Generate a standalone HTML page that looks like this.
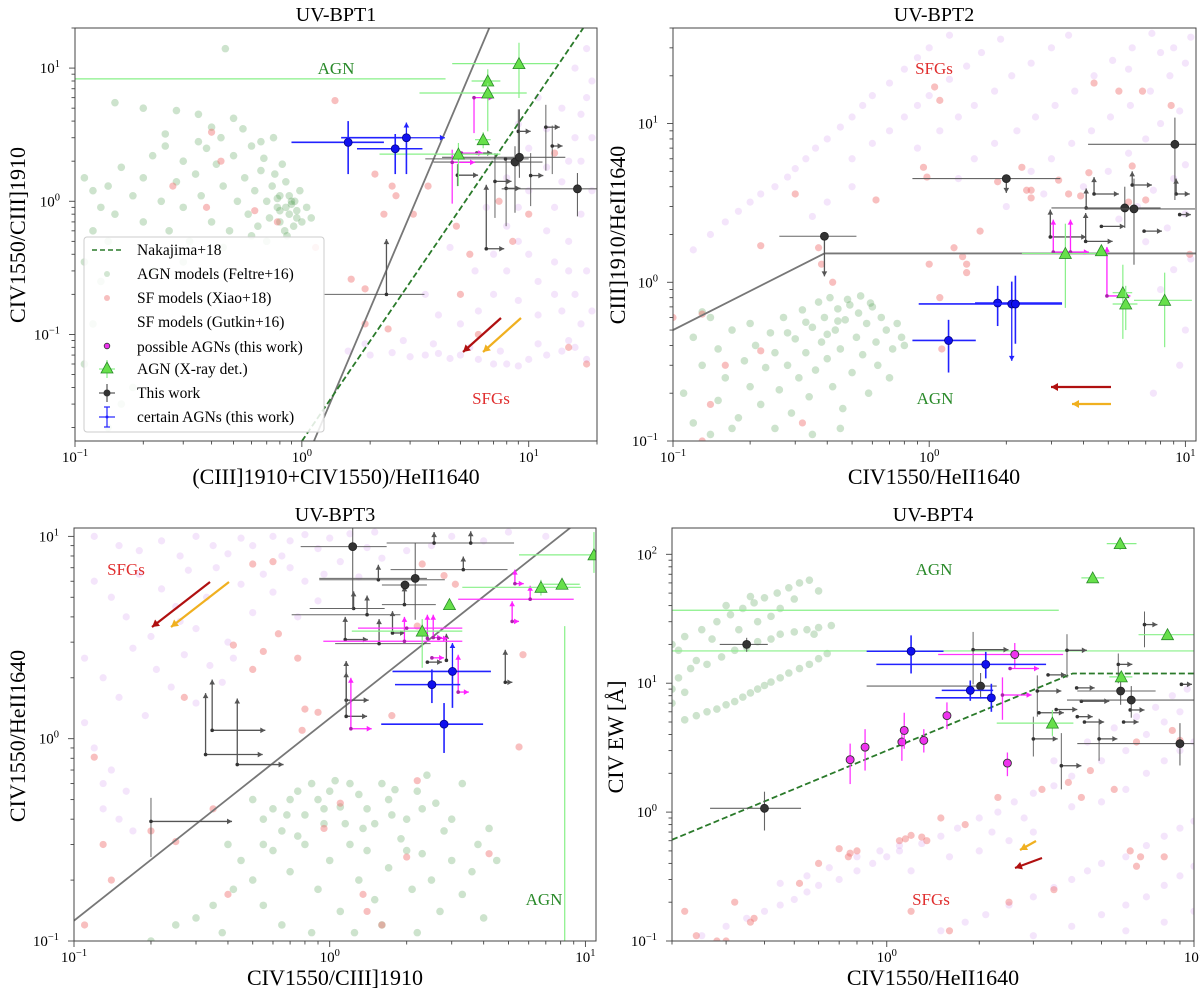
<!DOCTYPE html>
<html><head><meta charset="utf-8"><title>UV-BPT diagrams</title>
<style>
html,body{margin:0;padding:0;background:#fff;}
svg{display:block;font-family:"Liberation Serif","DejaVu Serif",serif;}
</style></head>
<body>
<svg id="fig" xmlns="http://www.w3.org/2000/svg" width="1200" height="999" viewBox="0 0 1200 999">
<defs>
<clipPath id="c1"><rect x="75" y="28" width="522" height="413"/></clipPath>
<clipPath id="c2"><rect x="673" y="28" width="523" height="413"/></clipPath>
<clipPath id="c3"><rect x="74" y="528" width="522" height="413"/></clipPath>
<clipPath id="c4"><rect x="672" y="528" width="522" height="413"/></clipPath>
</defs>
<g id="g1"></g>
<g id="g2"></g>
<g id="g3"></g>
<g id="g4"></g>

<g font-size="20" text-anchor="middle" fill="#000">
<text x="336" y="21">UV-BPT1</text>
<text x="934" y="21">UV-BPT2</text>
<text x="335" y="521">UV-BPT3</text>
<text x="933" y="521">UV-BPT4</text>
</g>
<g font-size="22" text-anchor="middle" fill="#000">
<text x="336" y="484">(CIII]1910+CIV1550)/HeII1640</text>
<text x="934" y="484">CIV1550/HeII1640</text>
<text x="335" y="985">CIV1550/CIII]1910</text>
<text x="933" y="985">CIV1550/HeII1640</text>
<text transform="translate(25,235) rotate(-90)">CIV1550/CIII]1910</text>
<text transform="translate(625,235) rotate(-90)">CIII]1910/HeII1640</text>
<text transform="translate(25,736) rotate(-90)">CIV1550/HeII1640</text>
<text transform="translate(623,737) rotate(-90)">CIV EW [Å]</text>
</g>
<g font-size="17" text-anchor="middle">
<text x="336" y="74" fill="#2a8a2a">AGN</text>
<text x="491" y="404" fill="#e03030">SFGs</text>
<text x="934" y="74" fill="#e03030">SFGs</text>
<text x="935" y="404" fill="#2a8a2a">AGN</text>
<text x="126" y="575" fill="#e03030">SFGs</text>
<text x="544" y="905" fill="#2a8a2a">AGN</text>
<text x="934" y="575" fill="#2a8a2a">AGN</text>
<text x="931" y="905" fill="#e03030">SFGs</text>
</g>
<g id="legend">
<rect x="84" y="237" width="240" height="195" rx="3" fill="#fff" fill-opacity="0.85" stroke="#ccc"/>
<g font-size="15.5" fill="#000">
<line x1="92" y1="250" x2="123" y2="250" stroke="#2a7a2a" stroke-width="1.6" stroke-dasharray="5,3"/>
<text x="137" y="255">Nakajima+18</text>
<circle cx="107" cy="274" r="3" fill="#4c9a4c" fill-opacity="0.25"/>
<text x="137" y="279">AGN models (Feltre+16)</text>
<circle cx="107" cy="298" r="3" fill="#f08080" fill-opacity="0.5"/>
<text x="137" y="303">SF models (Xiao+18)</text>
<text x="137" y="327">SF models (Gutkin+16)</text>
<circle cx="107" cy="346" r="2.8" fill="#ee33ee" stroke="#333" stroke-width="0.8"/>
<text x="137" y="352">possible AGNs (this work)</text>
<line x1="99" y1="369" x2="115" y2="369" stroke="#88f088" stroke-width="1.2"/>
<line x1="107" y1="360" x2="107" y2="378" stroke="#88f088" stroke-width="1.2"/>
<polygon points="107,362 101,373 113,373" fill="#66e04a" stroke="#2a8a2a" stroke-width="0.8"/>
<text x="137" y="374">AGN (X-ray det.)</text>
<line x1="99" y1="393" x2="115" y2="393" stroke="#555" stroke-width="1.2"/>
<line x1="107" y1="384" x2="107" y2="402" stroke="#555" stroke-width="1.2"/>
<circle cx="107" cy="393" r="3.5" fill="#333"/>
<text x="137" y="398">This work</text>
<line x1="99" y1="417" x2="115" y2="417" stroke="#2222ff" stroke-width="1.2"/>
<line x1="107" y1="407" x2="107" y2="427" stroke="#2222ff" stroke-width="1.2"/>
<line x1="104" y1="407" x2="110" y2="407" stroke="#2222ff" stroke-width="1.2"/>
<line x1="104" y1="427" x2="110" y2="427" stroke="#2222ff" stroke-width="1.2"/>
<circle cx="107" cy="417" r="1.5" fill="#2222ff"/>
<text x="137" y="422">certain AGNs (this work)</text>
</g>
</g>
</svg>
<script>
// ---------- data: background model grids ----------
const p1Green=[[0.11,1.5],[0.12,1.2],[0.13,0.9],[0.14,1.3],[0.15,0.8],[0.12,0.6],[0.11,0.35],[0.14,0.5],[0.16,1.8],[0.18,1.1],[0.2,0.7],[0.2,1.5],[0.22,2.2],[0.24,1.0],[0.25,3.2],[0.26,0.6],[0.28,1.4],[0.3,2.0],[0.3,0.9],[0.32,0.5],[0.34,1.6],[0.35,4.5],[0.36,1.1],[0.38,2.5],[0.4,0.7],[0.42,1.9],[0.44,3.0],[0.45,1.3],[0.48,0.6],[0.5,2.2],[0.52,1.0],[0.55,3.5],[0.56,1.5],[0.58,0.8],[0.6,2.6],[0.62,1.2],[0.64,0.65],[0.66,1.7],[0.68,2.1],[0.7,1.0],[0.72,0.75],[0.74,1.3],[0.75,3.0],[0.78,0.9],[0.8,0.7],[0.8,1.1],[0.82,1.9],[0.84,0.6],[0.85,1.4],[0.88,0.8],[0.9,1.0],[0.92,0.65],[0.95,0.85],[0.98,1.2],[1.0,0.7],[1.05,0.9],[1.1,0.75],[0.2,5.0],[0.15,5.5],[0.28,4.8],[0.13,0.25],[0.12,0.12],[0.16,0.03],[0.14,0.02],[0.11,0.06],[0.18,0.04],[0.22,0.3],[0.46,14],[0.3,0.35],[0.45,0.45],[0.6,0.55],[0.7,0.5],[0.86,0.55],[0.76,1.6],[0.66,2.8],[0.5,4.2],[0.4,3.6],[0.25,2.6],[0.35,2.8],[0.9,0.95],[0.93,1.0],[0.85,0.9],[0.8,0.85],[0.95,0.75],[0.88,1.1],[0.78,1.05]];
const p1Red=[[0.4,3.3],[0.27,1.3],[0.38,0.9],[0.44,2.0],[0.62,0.85],[0.78,0.7],[1.4,5.7],[1.15,0.45],[1.65,0.26],[1.9,0.22],[1.9,0.12],[2.1,1.6],[2.3,0.8],[2.5,1.3],[2.6,1.1],[3.1,0.8],[3.6,1.3],[4.8,0.65],[5.0,0.2],[5.5,0.4],[6.0,0.1],[7.4,1.0],[8.5,0.5],[10,0.8],[13,2.3],[15,0.08],[18,0.06],[2.4,0.11]];
const p1Purple=[[1.6,0.075],[2,0.07],[2.5,0.073],[3,0.068],[3.5,0.07],[4,0.072],[4.5,0.066],[5,0.07],[6,0.065],[7,0.06],[8,0.06],[9,0.058],[10,0.065],[12,0.07],[14,0.075],[16,0.08],[18,0.065],[1.9,0.085],[2.8,0.09],[3.8,0.085],[5.5,0.08],[7.5,0.075],[11,0.085],[15,0.09],[6,0.15],[7,0.2],[8,0.3],[9,0.5],[10,0.4],[11,0.25],[12,0.6],[13,0.9],[14,1.4],[15,2],[16,3],[17,4.5],[18,6],[19,8],[12,1.8],[10,1.2],[9,0.9],[8,0.65],[13,0.35],[15,0.5],[17,0.8],[19,1.2],[16,0.2],[18,0.3],[14,5],[16,10],[18,14],[12,3.5],[11,6],[10,2.5],[9,3.8],[8,1.5],[7,0.4],[6.5,0.9],[19,0.15],[17,0.12],[14,0.15],[11,0.14],[9,0.18],[5,0.12],[4,0.14],[3.5,0.2],[5.8,0.3],[4.5,0.45],[17,2],[19,3],[15,0.3],[13,0.2]];
const p2Green=[[0.11,0.2],[0.12,0.45],[0.13,0.3],[0.14,0.6],[0.15,0.18],[0.15,0.38],[0.16,0.25],[0.17,0.5],[0.18,0.14],[0.19,0.32],[0.2,0.22],[0.2,0.55],[0.21,0.4],[0.22,0.17],[0.23,0.29],[0.24,0.48],[0.25,0.36],[0.26,0.21],[0.27,0.6],[0.28,0.3],[0.29,0.15],[0.3,0.44],[0.31,0.25],[0.32,0.67],[0.33,0.36],[0.34,0.19],[0.35,0.52],[0.36,0.28],[0.37,0.75],[0.38,0.42],[0.39,0.6],[0.4,0.33],[0.41,0.8],[0.42,0.22],[0.43,0.5],[0.44,0.68],[0.45,0.38],[0.46,0.16],[0.47,0.58],[0.48,0.78],[0.5,0.27],[0.52,0.45],[0.53,0.64],[0.55,0.35],[0.57,0.55],[0.58,0.2],[0.6,0.7],[0.62,0.42],[0.63,0.3],[0.65,0.6],[0.68,0.5],[0.7,0.25],[0.72,0.38],[0.75,0.55],[0.78,0.45],[0.8,0.4],[0.12,0.13],[0.14,0.11],[0.17,0.12],[0.25,0.12],[0.35,0.11],[0.45,0.12],[0.13,0.65],[0.54,0.82],[0.59,0.74],[0.49,0.72],[0.44,0.57],[0.4,0.47],[0.33,0.56],[0.28,0.48]];
const p2Red=[[0.1,0.6],[0.13,0.63],[0.22,1.7],[0.3,3.6],[0.37,1.65],[0.38,1.3],[0.42,1.0],[0.62,3.3],[0.95,5.3],[0.98,4.6],[1.0,1.3],[1.1,14],[1.05,17],[1.25,1.65],[1.35,1.45],[1.4,1.3],[1.4,1.15],[1.58,2.1],[1.1,0.8],[1.12,0.38],[1.85,4.3],[2.3,5.3],[2.4,3.8],[2.5,3.8],[2.5,3.4],[3.2,4.4],[3.5,3.6],[3.9,3.5],[4.2,4.9],[4.4,18],[5.5,16],[6,3.2],[6.2,5.4],[6.8,16],[7,3.3],[8.8,13],[10.4,1.5],[0.16,0.3],[0.22,0.37],[0.14,0.17],[0.13,0.1],[0.32,0.13]];
const p2Purple=[[0.12,1.6],[0.14,2.0],[0.16,2.4],[0.18,2.8],[0.2,3.2],[0.22,3.6],[0.25,4.0],[0.28,4.6],[0.3,5.2],[0.33,6.0],[0.36,7.0],[0.4,8.0],[0.45,9.5],[0.5,11],[0.55,13],[0.6,15],[0.7,18],[0.8,22],[0.9,26],[1.0,30],[1.2,36],[0.5,6],[0.6,7.5],[0.7,9],[0.8,11],[0.9,13],[1.0,15],[1.2,19],[1.4,23],[1.6,28],[1.9,34],[0.9,7],[1.1,9],[1.3,11],[1.5,13],[1.8,16],[2.1,20],[2.5,24],[3.0,30],[3.5,36],[1.5,6],[1.8,7.5],[2.2,9],[2.6,11],[3.1,13],[3.7,16],[4.4,20],[5.2,25],[6.2,30],[7.4,37],[2.5,5],[3.0,6],[3.6,7.5],[4.3,9],[5.1,11],[6.1,13],[7.3,16],[8.7,20],[10,24],[4,4],[5,5],[6,6.5],[7,8],[8,10],[9.5,12],[5.5,2.5],[6.5,3],[7.5,3.8],[9,4.5],[10,5.5],[7,1.8],[8.5,2.2],[10,2.7],[9,1.2],[10.5,1.4],[8,0.9],[10,0.5],[9.5,0.3],[7.5,0.2],[0.4,3.2],[0.5,4.0],[0.35,2.6],[2,3],[2.8,3.6],[1.3,4.5],[9,30],[10.5,35],[6,22],[8,28]];
const p3Green=[[0.5,0.5],[0.55,0.4],[0.6,0.45],[0.65,0.35],[0.7,0.5],[0.75,0.55],[0.8,0.42],[0.85,0.6],[0.9,0.5],[0.95,0.38],[1.0,0.55],[1.05,0.62],[1.1,0.46],[1.2,0.6],[1.3,0.53],[1.4,0.45],[1.5,0.38],[1.6,0.6],[1.7,0.5],[1.8,0.56],[2.0,0.4],[2.2,0.55],[2.4,0.66],[2.6,0.48],[2.8,0.35],[3.0,0.4],[3.3,0.6],[0.4,0.3],[0.45,0.25],[0.42,0.18],[0.5,0.2],[0.55,0.15],[0.6,0.28],[0.7,0.22],[0.8,0.3],[0.9,0.18],[1.0,0.25],[1.1,0.14],[1.2,0.3],[1.3,0.2],[1.4,0.28],[1.5,0.16],[1.7,0.23],[1.9,0.32],[2.1,0.18],[2.3,0.27],[2.5,0.2],[2.7,0.14],[3.0,0.25],[3.3,0.17],[3.6,0.22],[4.0,0.13],[4.5,0.25],[4.2,0.36],[3.8,0.3],[0.25,0.12],[0.3,0.13],[0.2,0.1],[0.35,0.15],[0.38,0.11],[0.65,0.12],[0.85,0.11],[1.25,0.11],[1.6,0.12],[2.2,0.11],[0.75,0.33],[0.95,0.45],[1.15,0.38],[1.35,0.36],[1.75,0.42],[2.3,0.45],[2.0,0.28],[0.55,0.3],[0.68,0.42]];
const p3Red=[[0.12,0.81],[0.13,0.3],[0.14,0.2],[0.11,0.12],[0.2,0.35],[0.25,0.31],[0.27,1.6],[0.35,0.45],[0.4,0.17],[0.42,2.9],[0.5,7.3],[0.55,2.7],[0.5,2.2],[0.6,7.5],[0.63,3.3],[0.75,2.5],[0.8,1.4],[0.78,1.1],[0.9,1.35],[0.95,0.36],[1.1,0.48],[1.35,0.17],[1.4,0.14],[1.6,0.12],[1.75,1.3],[2.0,0.26],[2.2,0.62],[2.3,7.3],[2.2,3.6],[2.8,6.4],[3.1,5.8],[4.2,0.27],[5.5,0.91],[5.7,2.6]];
const p3Purple=[[0.12,10],[0.15,9],[0.18,8.5],[0.22,9.5],[0.26,8],[0.3,10],[0.35,9],[0.4,8.2],[0.45,9.8],[0.5,9],[0.6,10],[0.7,9.5],[0.8,10.2],[0.9,8.7],[1.0,9.8],[1.2,10.3],[0.12,6],[0.14,5],[0.16,4],[0.18,6.5],[0.2,3.2],[0.22,5.5],[0.25,4.5],[0.28,6.8],[0.3,3.5],[0.33,5],[0.36,7],[0.4,3],[0.45,5.8],[0.5,4.2],[0.55,6.5],[0.6,5.3],[0.7,7],[0.8,6],[0.9,4.8],[1.1,7.5],[1.3,6.3],[1.6,7.8],[2,8.5],[2.5,9],[0.11,2.5],[0.13,2],[0.15,1.6],[0.17,2.8],[0.19,1.3],[0.21,2.2],[0.24,1.8],[0.27,2.6],[0.3,1.5],[0.34,2.3],[0.38,1.9],[0.42,2.5],[0.11,1.2],[0.12,0.9],[0.14,0.7],[0.16,0.55],[0.13,0.45],[0.15,0.4],[0.17,0.35],[0.13,0.6],[3,10],[4,9.5],[5,10.5],[7,10],[1.5,10.5],[0.65,8],[0.75,4],[0.95,6.5],[1.4,8.8],[0.26,3.8]];
const p4Green=[[0.22,5.2],[0.24,5.6],[0.26,6],[0.28,6.3],[0.3,6.8],[0.32,7.2],[0.34,7.8],[0.36,8.4],[0.38,9],[0.4,9.6],[0.42,10.2],[0.45,11],[0.48,12],[0.52,13],[0.56,14],[0.6,15.5],[0.64,17],[0.2,9],[0.21,11],[0.23,13],[0.26,14],[0.29,16],[0.32,18],[0.35,19],[0.38,21],[0.42,22],[0.45,24],[0.5,25],[0.55,26],[0.6,27],[0.66,28],[0.58,24],[0.2,20],[0.22,23],[0.25,26],[0.28,30],[0.31,34],[0.34,38],[0.37,42],[0.4,46],[0.44,50],[0.48,55],[0.52,60],[0.56,63],[0.6,52],[0.5,45],[0.45,38],[0.42,33],[0.38,30],[0.33,26],[0.27,22],[0.3,40],[0.36,47],[0.21,18],[0.24,15],[0.2,7],[0.22,8.5]];
const p4Red=[[0.22,0.17],[0.24,0.11],[0.28,0.1],[0.3,0.1],[0.32,0.2],[0.36,0.14],[0.37,0.15],[0.52,0.28],[0.6,0.4],[0.7,0.52],[0.75,0.45],[0.76,0.48],[0.8,0.5],[1.1,0.6],[1.15,0.62],[1.2,0.66],[1.3,0.64],[1.35,0.6],[1.5,0.9],[1.6,0.12],[1.2,0.17],[1.8,0.8],[2.3,1.3],[2.5,0.2],[3.2,1.5],[3.5,0.25],[3.9,1.7],[4.3,1.3],[5.5,1.5],[6.5,3.5],[6.2,0.5],[6.5,0.38],[6.7,0.45],[8,0.45],[8.5,4.3],[9,3.6],[4.6,2.1]];
const p4Purple=[[0.25,0.11],[0.3,0.13],[0.35,0.15],[0.4,0.17],[0.45,0.19],[0.5,0.21],[0.55,0.24],[0.6,0.27],[0.7,0.3],[0.8,0.35],[0.9,0.4],[1.0,0.45],[1.1,0.5],[1.3,0.57],[1.5,0.65],[1.7,0.75],[2,0.9],[2.3,1.0],[2.6,1.2],[3,1.4],[3.5,1.6],[4,1.9],[0.45,0.28],[0.55,0.32],[0.65,0.37],[0.8,0.45],[0.95,0.5],[1.1,0.55],[2,0.5],[2.5,0.6],[3,0.7],[1.5,0.12],[1.8,0.14],[2.1,0.16],[2.5,0.19],[3,0.22],[3.5,0.26],[4,0.3],[4.5,0.35],[5,0.4],[6,0.45],[7,0.55],[8,0.65],[9,0.75],[10,0.85],[3,0.11],[4,0.13],[5,0.16],[6,0.19],[7,0.22],[8,0.27],[9,0.32],[10,0.38],[6,0.12],[8,0.14],[10,0.17],[5,2.5],[6,3],[7,4],[8,5],[9,6],[4.5,3.5],[5.5,4.5],[6.5,5.5],[7.5,6.5],[8.5,8],[9.5,9],[5,1.2],[6,1.5],[7,2],[8,2.5],[9,3],[10,3.5],[4,1.1],[3.5,2.5],[1.2,0.35],[1.6,0.45],[2.2,0.7],[2.8,0.9]];

// ---------- data: observations [x, y, xlo, xhi, ylo, yhi, arrowX, arrowY] (0 = none) ----------
const p1Blue=[[1.6,2.77,0.9,2.3,1.6,4.0,0,0],[2.58,2.48,1.75,3.4,1.6,3.2,0,0],[2.89,3.0,1.49,0,1.6,0,4.27,3.9]];
const p1Tri=[[9.06,10.8,4.6,13.4,5.96,15.5,0,0],[6.6,8.0,5.6,7.5,6.5,9.8,0,0],[6.6,6.5,3.3,9.8,3.35,7.7,0,0],[6.3,2.9,5.8,6.8,2.5,3.3,0,0],[4.9,2.26,2.2,7.5,1.3,2.74,0,0]];
const p1Black=[[8.7,1.97,3.8,11.5,0.82,2.59,0,0],[9.1,2.14,4.15,14.5,1.5,4.9,0,0],[16.4,1.24,7.6,25,0.77,1.63,0,0]];
const p1Lim=[[6.5,0.44,0,0,0,0,7.8,1.33],[9.0,3.35,0,0,1.83,4.9,10.2,0],[11.9,3.6,0,0,1.7,5.3,13.7,0],[12.7,2.6,0,0,1.6,3.7,14.1,0],[10.2,1.56,0,0,0.92,2.3,11.6,0],[7.95,1.25,0,0,0.65,2.05,9.2,0],[7.1,1.41,0,0,0.75,2.3,8.4,0],[4.85,1.57,0,0,1.3,1.9,5.98,0],[5.9,2.3,0,0,0,0,6.9,0],[7.9,2.08,3.5,10,0,0,9.2,0],[2.36,0.2,1.26,3.47,0,0,0,0.52]];
const p1Mag=[[5.74,6.0,0,0,3.25,0,7.0,0],[5.05,2.3,0,0,0,0,6.3,0],[4.6,1.96,0,0,0.96,2.44,5.8,0]];

const p2Blue=[[1.19,0.43,0.86,1.52,0.27,0.58,0,0],[1.85,0.74,1.51,3.3,0.53,0.95,0,0],[2.1,0.73,0.91,3.3,0,1.01,0,0.32],[2.17,0.73,0,0,0.41,1.1,0,0]];
const p2Tri=[[3.4,1.52,2.3,4.7,0.69,2.34,0,0],[4.7,1.58,0,0,0,0,0,0],[5.7,0.86,5.2,6.2,0.44,1.29,0,0],[5.85,0.73,5.2,6.5,0.5,0.95,0,0],[8.3,0.77,6.3,10.6,0.39,1.15,0,0]];
const p2Black=[[9.1,7.4,4.17,12,3.3,10.9,0,0],[5.8,2.94,3.0,8.0,2.2,4.0,0,0],[6.3,2.9,4.1,10.9,1.29,4.5,0,0],[2.0,4.5,0.86,3.25,0,0,0,3.66],[0.39,1.95,0.26,0.52,0,0,0,1.09]];
const p2Lim=[[4.4,3.6,0,0,0,0,5.5,4.6],[6.2,4.1,0,0,0,0,7.4,5.0],[9.2,3.6,0,0,0,0,10.4,4.5],[9.5,2.67,0,0,0,0,10.5,0],[4.1,2.94,0,0,0,0,0,3.9],[4.7,2.25,0,0,0,0,5.8,0],[6.9,2.1,0,0,0,0,8.1,0],[2.97,1.93,0,0,0,0,4.1,2.87],[4.08,1.81,0,0,0,0,5.2,2.73]];
const p2Mag=[[3.05,1.55,0,0,0,0,4.2,2.48],[3.56,1.55,0,0,0,0,0,2.48],[4.94,0.82,0,0,0,0,6.1,1.67]];

const p3Blue=[[2.51,1.85,1.8,3.24,1.5,2.2,0,0],[2.8,1.18,1.59,3.98,0.85,1.5,0,0],[3.02,2.15,1.76,4.27,1.42,0,0,2.97]];
const p3Tri=[[10.8,8.1,5.5,15,6.6,10.5,0,0],[6.7,5.6,3.3,9.6,5.1,6.1,0,0],[8.1,5.8,6.8,9.5,0,0,0,0],[2.94,4.6,0,0,0,0,0,0],[2.3,3.4,1.22,3.3,2.24,3.9,0,0]];
const p3Black=[[1.23,8.9,0.77,1.67,4.35,11,0,0],[2.16,6.2,0.91,2.4,3.87,9.27,0,0],[1.97,5.75,1.6,2.4,0,0,0,0]];
const p3Lim=[[0.347,1.1,0,0,0,0,0.56,1.96],[0.327,0.835,0,0,0,0,0.547,1.68],[0.435,0.745,0,0,0,0,0.66,1.58],[0.2,0.39,0,0,0.26,0.51,0.415,0],[1.16,1.55,0,0,0,0,1.42,2.42],[1.16,1.29,0,0,0,0,1.4,2.13],[1.15,3.09,0,0,0,0,1.41,4.0],[1.24,4.4,0.835,1.64,0,0,0,5.35],[1.4,4.1,0.71,1.89,0,0,0,5.1],[1.55,6.1,0.91,2.82,0,0,0,7.24],[2.56,9.27,1.67,5.26,0,0,0,10.5],[3.56,9.27,0,0,0,0,0,10.6],[3.33,6.85,1.73,4.96,0,0,0,7.95],[1.76,3.33,0,0,0,0,1.97,4.27],[1.56,2.95,1.05,2.48,0,0,0,3.9],[1.96,4.6,1.6,2.6,0,0,0,5.66],[4.86,1.9,0,0,0,0,5.18,2.75],[2.41,2.39,0,0,0,0,2.75,0],[2.86,2.44,0,0,0,0,0,3.3]];
const p3Mag=[[1.21,1.12,0,0,0,0,1.46,2.0],[3.18,1.7,0,0,0,0,3.5,2.6],[2.51,2.51,0,0,0,0,2.8,0],[1.96,3.03,0.944,3.3,0,0,0,4.0],[2.41,3.13,0,0,0,0,0,4.1],[2.54,3.16,0,0,0,0,2.75,4.1],[2.67,3.13,0,0,0,0,2.9,0],[5.3,5.84,0,0,0,0,5.74,6.85],[6.08,4.89,3.18,9.0,0,0,0,5.7],[5.17,3.8,0,0,0,0,5.5,4.78],[2.0,3.52,1.29,3.3,0,0,0,0]];

const p4Blue=[[1.2,17.7,0.86,1.53,11.9,23.5,0,0],[2.1,14,0.925,3.3,10.9,17.5,0,0],[1.87,8.8,1.51,2.22,7.3,10.5,0,0],[2.19,7.7,1.44,2.2,6.0,9.9,0,0]];
const p4Tri=[[3.46,4.9,2.28,4.05,3.9,6.2,0,0],[5.75,121,5.2,6.5,108,135,0,0],[4.68,65.6,4.3,5.1,0,0,0,0],[8.2,23.8,6.6,12,0,0,0,0],[5.8,11.2,5.3,6.3,0,0,0,0]];
const p4Mag=[[0.76,2.55,0,0,1.65,3.4,0,0],[0.85,3.19,0,0,2.1,4.4,0,0],[1.12,3.5,0,0,2.5,4.6,0,0],[1.14,4.3,0,0,3.1,5.9,0,0],[1.32,3.6,0,0,2.9,4.4,0,0],[1.57,5.6,0,0,4.4,7.1,0,0],[2.47,2.4,0,0,1.9,2.9,0,0],[2.61,16.7,1.47,3.75,13,20.5,0,0]];
const p4MagLim=[[2.52,13,0,0,0,0,3.13,0],[2.38,8.1,0,0,5.2,11.1,2.96,0]];
const p4Black=[[0.35,20,0.286,0.41,17.5,22.5,0,0],[0.40,1.07,0.266,0.526,0.72,1.44,0,0],[2.02,9.5,0.86,2.28,7.6,12,0,0],[5.77,8.7,4.17,7.5,6.8,11.5,0,0],[6.25,7.4,3.86,10,5.4,9.5,0,0],[9.0,3.4,4.17,10,2.3,4.9,0,0]];
const p4Lim=[[1.91,18.2,0,0,9.8,25,2.49,0],[3.86,18,0,0,11,24,4.48,0],[3.35,11.6,0,0,0,0,3.83,0],[5.67,14,0,0,10,17,6.3,0],[6.9,28.5,0,0,19,36,7.6,0],[9.1,9.8,0,0,0,0,9.85,0],[4.15,9.2,0,0,0,0,4.75,0],[4.3,7.25,0,0,0,0,5.3,0],[3.09,8.7,0,0,5.5,11.5,3.7,0],[3.56,6.25,0,0,0,0,4.17,0],[6.2,6.2,0,0,0,0,6.9,0],[4.91,3.7,0,0,2.5,5.3,5.63,0],[3.0,3.7,0,0,2.7,5.5,3.6,0],[3.7,2.29,0,0,1.5,4.1,4.3,0],[5.9,5.0,0,0,0,0,6.6,0],[4.4,5.0,0,0,0,0,5.1,0],[3.13,5.9,0,0,0,0,3.77,0],[4.17,5.5,0,0,0,0,4.68,0]];

// ---------- reference lines ----------
const p1DivX=[1.13,6.7], p1DivY=[0.0158,20];
const p1NakX=[1.0,17.4], p1NakY=[0.0158,20];
const p2DivX=[0.1,0.39,11], p2DivY=[0.5,1.52,1.52];
const p3DivX=[0.1,11], p3DivY=[0.126,13.9];
const p4NakX=[0.2,4.03,11], p4NakY=[0.61,11.9,11.9];
// long error bars of X-ray AGN extending out of view: [x1,y1,x2,y2]
const p1GreenBars=[[0.1,8.3,4.3,8.3]];
const p3GreenBars=[[8.3,3.6,8.3,0.1]];
const p4GreenBars=[[0.2,36.8,3.63,36.8],[0.2,17.8,10,17.8]];

// ---------- rendering ----------
const NS='http://www.w3.org/2000/svg';
const PANELS={
 p1:{x0:75,x1:597,lx0:-1,lx1:Math.log10(20),y0:28,y1:441,ly0:-1.8,ly1:Math.log10(20),clip:'c1',g:'g1'},
 p2:{x0:673,x1:1196,lx0:-1,lx1:Math.log10(11),y0:28,y1:441,ly0:-1,ly1:Math.log10(40),clip:'c2',g:'g2'},
 p3:{x0:74,x1:596,lx0:-1,lx1:Math.log10(11),y0:528,y1:941,ly0:-1,ly1:Math.log10(11),clip:'c3',g:'g3'},
 p4:{x0:672,x1:1194,lx0:Math.log10(0.2),lx1:1,y0:528,y1:941,ly0:-1,ly1:Math.log10(160),clip:'c4',g:'g4'}
};
function sx(p,v){return p.x0+(Math.log10(v)-p.lx0)/(p.lx1-p.lx0)*(p.x1-p.x0);}
function sy(p,v){return p.y1-(Math.log10(v)-p.ly0)/(p.ly1-p.ly0)*(p.y1-p.y0);}
function mk(parent,tag,attrs,name){
 const el=document.createElementNS(NS,tag);
 for(const k in attrs) el.setAttribute(k,attrs[k]);
 
 
 parent.appendChild(el);
 return el;
}
function scatter(g,p,pts,fill,op,r,name){
 pts.forEach(d=>{mk(g,'circle',{cx:sx(p,d[0]),cy:sy(p,d[1]),r:r,fill:fill,'fill-opacity':op},name);});
}
function arrow(g,x1,y1,x2,y2,col,w,name){
 mk(g,'line',{x1:x1,y1:y1,x2:x2,y2:y2,stroke:col,'stroke-width':w},name);
 const dx=x2-x1,dy=y2-y1,L=Math.hypot(dx,dy)||1,ux=dx/L,uy=dy/L,h=5,hw=2.8;
 const pts=[[x2,y2],[x2-ux*h-uy*hw,y2-uy*h+ux*hw],[x2-ux*h+uy*hw,y2-uy*h-ux*hw]].map(q=>q.join(',')).join(' ');
 mk(g,'polygon',{points:pts,fill:col},name+'-head');
}
function records(g,p,arr,st,name){
 arr.forEach(r=>{
  const [x,y,xl,xh,yl,yh,ax,ay]=r, X=sx(p,x), Y=sy(p,y);
  if(xl||xh) mk(g,'line',{x1:sx(p,xl||x),y1:Y,x2:sx(p,xh||x),y2:Y,stroke:st.ec,'stroke-width':st.lw,'stroke-opacity':st.eo||1},name+'-xerr');
  if(yl||yh) mk(g,'line',{x1:X,y1:sy(p,yl||y),x2:X,y2:sy(p,yh||y),stroke:st.ec,'stroke-width':st.lw,'stroke-opacity':st.eo||1},name+'-yerr');
  if(ax) arrow(g,X,Y,sx(p,ax),Y,st.ac||st.ec,1.3,name+'-limit-arrow');
  if(ay) arrow(g,X,Y,X,sy(p,ay),st.ac||st.ec,1.3,name+'-limit-arrow');
  if(st.m==='^'){
   mk(g,'polygon',{points:`${X},${Y-6} ${X-6},${Y+5} ${X+6},${Y+5}`,fill:'#66e04a',stroke:'#2a8a2a','stroke-width':0.8},name);
  } else if(st.m==='c'){
   mk(g,'circle',{cx:X,cy:Y,r:4,fill:'#ee33ee',stroke:'#333','stroke-width':0.9},name);
  } else if(st.m==='o'){
   mk(g,'circle',{cx:X,cy:Y,r:4,fill:st.fc,stroke:st.sc||st.fc,'stroke-width':0.8},name);
  } else {
   mk(g,'circle',{cx:X,cy:Y,r:1.8,fill:st.fc},name);
  }
 });
}
function polyline(g,p,xs,ys,attrs,name){
 const pts=xs.map((x,i)=>sx(p,x)+','+sy(p,ys[i])).join(' ');
 mk(g,'polyline',Object.assign({points:pts,fill:'none'},attrs),name);
}
function bars(g,p,arr,name){
 arr.forEach(b=>{mk(g,'line',{x1:sx(p,b[0]),y1:sy(p,b[1]),x2:sx(p,b[2]),y2:sy(p,b[3]),stroke:'#88f088','stroke-width':1.2},name);});
}
function sup(t,x,y,exp,anchor,name){
 const el=mk(t,'text',{x:x,y:y,'text-anchor':anchor,'font-size':15,fill:'#000'},name);
 el.appendChild(document.createTextNode('10'));
 const ts=document.createElementNS(NS,'tspan');
 ts.setAttribute('dy','-6');
 ts.setAttribute('font-size','10.5');
 ts.textContent=exp<0?'\u2212'+(-exp):String(exp);
 el.appendChild(ts);
}
function axes(p,pg){
 const g=mk(pg,'g',{},'axes');
 for(let d=-2;d<=3;d++){
  for(let k=1;k<=9;k++){
   const v=k*Math.pow(10,d), lv=Math.log10(v);
   const len=k===1?6:3.5;
   if(lv>=p.lx0-1e-9&&lv<=p.lx1+1e-9){
    const X=sx(p,v);
    mk(g,'line',{x1:X,y1:p.y1,x2:X,y2:p.y1+len,stroke:'#444','stroke-width':0.9},k===1?'x-major-tick':'x-minor-tick');
    if(k===1) sup(g,X,p.y1+21,d,'middle','x-tick-label');
   }
   if(lv>=p.ly0-1e-9&&lv<=p.ly1+1e-9){
    const Y=sy(p,v);
    mk(g,'line',{x1:p.x0-len,y1:Y,x2:p.x0,y2:Y,stroke:'#444','stroke-width':0.9},k===1?'y-major-tick':'y-minor-tick');
    if(k===1) sup(g,p.x0-15,Y+5,d,'end','y-tick-label');
   }
  }
 }
 mk(g,'rect',{x:p.x0,y:p.y0,width:p.x1-p.x0,height:p.y1-p.y0,fill:'none',stroke:'#444','stroke-width':1},'plot-frame');
}
const sBlack={ec:'#555',lw:1.1,eo:0.9,m:'o',fc:'#333',sc:'#222'};
const sLim={ec:'#555',lw:1.0,eo:0.9,m:'.',fc:'#333',ac:'#555'};
const sBlue={ec:'#2222ff',lw:1.6,m:'o',fc:'#1010ee',sc:'#000088'};
const sTri={ec:'#88f088',lw:1.2,m:'^'};
const sMag={ec:'#ff33ff',lw:1.3,m:'.',fc:'#aa22aa',ac:'#ff22ff'};
const sMagC={ec:'#ff33ff',lw:1.3,m:'c'};

function panel(key,green,red,purple,build){
 const p=PANELS[key], pg=document.getElementById(p.g);
 const c=mk(pg,'g',{'clip-path':'url(#'+p.clip+')'},'plot-area');
 scatter(c,p,purple,'#cc88ee',0.22,3.6,'gutkin-model-point');
 scatter(c,p,green,'#4c9a4c',0.28,3.8,'agn-model-point');
 scatter(c,p,red,'#f07070',0.45,3.6,'xiao-model-point');
 build(c,p);
 axes(p,pg);
}
function annoArrow(g,x1,y1,x2,y2,col,name){
 mk(g,'line',{x1:x1,y1:y1,x2:x2,y2:y2,stroke:col,'stroke-width':2.2},name);
 const dx=x2-x1,dy=y2-y1,L=Math.hypot(dx,dy),ux=dx/L,uy=dy/L,h=7,hw=4;
 mk(g,'polygon',{points:[[x2,y2],[x2-ux*h-uy*hw,y2-uy*h+ux*hw],[x2-ux*h+uy*hw,y2-uy*h-ux*hw]].map(q=>q.join(',')).join(' '),fill:col},name+'-head');
}

panel('p1',p1Green,p1Red,p1Purple,(g,p)=>{
 polyline(g,p,p1DivX,p1DivY,{stroke:'#777','stroke-width':1.8},'agn-sf-division-line');
 polyline(g,p,p1NakX,p1NakY,{stroke:'#2a7a2a','stroke-width':1.8,'stroke-dasharray':'6,3'},'nakajima-line');
 bars(g,p,p1GreenBars,'xray-agn-errorbar');
 records(g,p,p1Lim,sLim,'this-work-limit');
 records(g,p,p1Black,sBlack,'this-work-point');
 records(g,p,p1Mag,sMag,'possible-agn-limit');
 records(g,p,p1Tri,sTri,'xray-agn-point');
 records(g,p,p1Blue,sBlue,'certain-agn-point');
 annoArrow(g,501,318,463,352,'#b01010','dust-vector-arrow');
 annoArrow(g,521,318,483,352,'#f0b020','metallicity-vector-arrow');
});
panel('p2',p2Green,p2Red,p2Purple,(g,p)=>{
 polyline(g,p,p2DivX,p2DivY,{stroke:'#777','stroke-width':1.8},'agn-sf-division-line');
 records(g,p,p2Lim,sLim,'this-work-limit');
 records(g,p,p2Black,sBlack,'this-work-point');
 records(g,p,p2Mag,sMag,'possible-agn-limit');
 records(g,p,p2Tri,sTri,'xray-agn-point');
 records(g,p,p2Blue,sBlue,'certain-agn-point');
 annoArrow(g,1111,387,1051,387,'#b01010','dust-vector-arrow');
 annoArrow(g,1111,404,1072,404,'#f0b020','metallicity-vector-arrow');
});
panel('p3',p3Green,p3Red,p3Purple,(g,p)=>{
 polyline(g,p,p3DivX,p3DivY,{stroke:'#777','stroke-width':1.8},'agn-sf-division-line');
 bars(g,p,p3GreenBars,'xray-agn-errorbar');
 records(g,p,p3Lim,sLim,'this-work-limit');
 records(g,p,p3Black,sBlack,'this-work-point');
 records(g,p,p3Mag,sMag,'possible-agn-limit');
 records(g,p,p3Tri,sTri,'xray-agn-point');
 records(g,p,p3Blue,sBlue,'certain-agn-point');
 annoArrow(g,210,582,152,627,'#b01010','dust-vector-arrow');
 annoArrow(g,229,582,171,627,'#f0b020','metallicity-vector-arrow');
});
panel('p4',p4Green,p4Red,p4Purple,(g,p)=>{
 polyline(g,p,p4NakX,p4NakY,{stroke:'#2a7a2a','stroke-width':1.8,'stroke-dasharray':'6,3'},'nakajima-line');
 bars(g,p,p4GreenBars,'xray-agn-errorbar');
 records(g,p,p4Lim,sLim,'this-work-limit');
 records(g,p,p4Black,sBlack,'this-work-point');
 records(g,p,p4MagLim,sMag,'possible-agn-limit');
 records(g,p,p4Mag,sMagC,'possible-agn-point');
 records(g,p,p4Tri,sTri,'xray-agn-point');
 records(g,p,p4Blue,sBlue,'certain-agn-point');
 annoArrow(g,1036,841,1020,850,'#f0b020','metallicity-vector-arrow');
 annoArrow(g,1042,858,1015,868,'#b01010','dust-vector-arrow');
});
</script>
</body></html>
